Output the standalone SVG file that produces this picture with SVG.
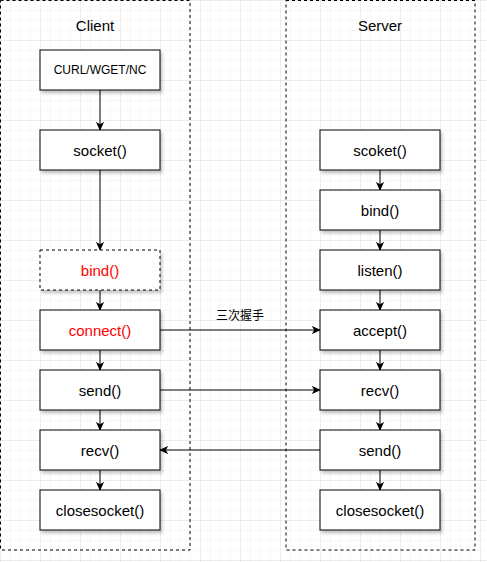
<svg xmlns="http://www.w3.org/2000/svg" width="487" height="562" viewBox="0 0 487 562">
<defs>
  <pattern id="minor" width="10" height="10" patternUnits="userSpaceOnUse">
    <path d="M10 0 L0 0 0 10" fill="none" stroke="#f0f0f0" stroke-width="1"/>
  </pattern>
  <pattern id="major" width="40" height="40" patternUnits="userSpaceOnUse">
    <rect width="40" height="40" fill="url(#minor)"/>
    <path d="M40 0 L0 0 0 40" fill="none" stroke="#e2e2e2" stroke-width="1"/>
  </pattern>
  <filter id="sh" x="-10%" y="-10%" width="130%" height="140%">
    <feDropShadow dx="2" dy="3" stdDeviation="1.5" flood-color="#000" flood-opacity="0.22"/>
  </filter>
  <marker id="arr" viewBox="0 0 10 10" refX="9" refY="5" markerWidth="9" markerHeight="9" markerUnits="userSpaceOnUse" orient="auto">
    <path d="M0 0.5 L10 5 L0 9.5 L2.5 5 Z" fill="#000"/>
  </marker>
</defs>
<style>
  .box{fill:#fff;stroke:#000;stroke-width:1;filter:url(#sh)}
  .dash{stroke-dasharray:3 3}
  .lane{fill:none;stroke:#000;stroke-width:1;stroke-dasharray:3 3}
  .t{font-family:"Liberation Sans",Arial,sans-serif;font-size:15px;text-anchor:middle;dominant-baseline:central;fill:#000}
  .s{font-size:12px}
  .red{fill:#ff0000}
  .c{fill:none;stroke:#000;stroke-width:1;marker-end:url(#arr)}
  .lbl{font-family:"Liberation Sans","Noto Sans CJK SC",sans-serif;font-size:12px;text-anchor:middle;dominant-baseline:central;fill:#000}
</style>
<rect width="487" height="562" fill="#fff"/>
<rect width="487" height="562" fill="url(#major)"/>

<g id="client-lane">
  <rect class="lane" x="0.5" y="0.5" width="189.5" height="549.5"/>
  <text class="t" x="95" y="25">Client</text>
</g>
<g id="server-lane">
  <rect class="lane" x="286" y="0.5" width="189" height="549.5"/>
  <text class="t" x="380" y="25">Server</text>
</g>

<g id="connectors">
  <line class="c" x1="100" y1="90" x2="100" y2="130"/>
  <line class="c" x1="100" y1="170" x2="100" y2="250"/>
  <line class="c" x1="100" y1="290" x2="100" y2="310"/>
  <line class="c" x1="100" y1="350" x2="100" y2="370"/>
  <line class="c" x1="100" y1="410" x2="100" y2="430"/>
  <line class="c" x1="100" y1="470" x2="100" y2="490"/>
  <line class="c" x1="380" y1="170" x2="380" y2="190"/>
  <line class="c" x1="380" y1="230" x2="380" y2="250"/>
  <line class="c" x1="380" y1="290" x2="380" y2="310"/>
  <line class="c" x1="380" y1="350" x2="380" y2="370"/>
  <line class="c" x1="380" y1="410" x2="380" y2="430"/>
  <line class="c" x1="380" y1="470" x2="380" y2="490"/>
  <line class="c" x1="160" y1="330" x2="320" y2="330"/>
  <line class="c" x1="160" y1="390" x2="320" y2="390"/>
  <line class="c" x1="320" y1="450" x2="160" y2="450"/>
  <text class="lbl" x="240" y="316">三次握手</text>
</g>

<g id="c-curl"><rect class="box" x="40" y="50" width="120" height="40"/><text class="t s" x="100" y="70">CURL/WGET/NC</text></g>
<g id="c-socket"><rect class="box" x="40" y="130" width="120" height="40"/><text class="t" x="100" y="150">socket()</text></g>
<g id="c-bind"><rect class="box dash" x="40" y="250" width="120" height="40"/><text class="t red" x="100" y="270">bind()</text></g>
<g id="c-connect"><rect class="box" x="40" y="310" width="120" height="40"/><text class="t red" x="100" y="330">connect()</text></g>
<g id="c-send"><rect class="box" x="40" y="370" width="120" height="40"/><text class="t" x="100" y="390">send()</text></g>
<g id="c-recv"><rect class="box" x="40" y="430" width="120" height="40"/><text class="t" x="100" y="450">recv()</text></g>
<g id="c-close"><rect class="box" x="40" y="490" width="120" height="40"/><text class="t" x="100" y="510">closesocket()</text></g>

<g id="s-socket"><rect class="box" x="320" y="130" width="120" height="40"/><text class="t" x="380" y="150">scoket()</text></g>
<g id="s-bind"><rect class="box" x="320" y="190" width="120" height="40"/><text class="t" x="380" y="210">bind()</text></g>
<g id="s-listen"><rect class="box" x="320" y="250" width="120" height="40"/><text class="t" x="380" y="270">listen()</text></g>
<g id="s-accept"><rect class="box" x="320" y="310" width="120" height="40"/><text class="t" x="380" y="330">accept()</text></g>
<g id="s-recv"><rect class="box" x="320" y="370" width="120" height="40"/><text class="t" x="380" y="390">recv()</text></g>
<g id="s-send"><rect class="box" x="320" y="430" width="120" height="40"/><text class="t" x="380" y="450">send()</text></g>
<g id="s-close"><rect class="box" x="320" y="490" width="120" height="40"/><text class="t" x="380" y="510">closesocket()</text></g>
</svg>
